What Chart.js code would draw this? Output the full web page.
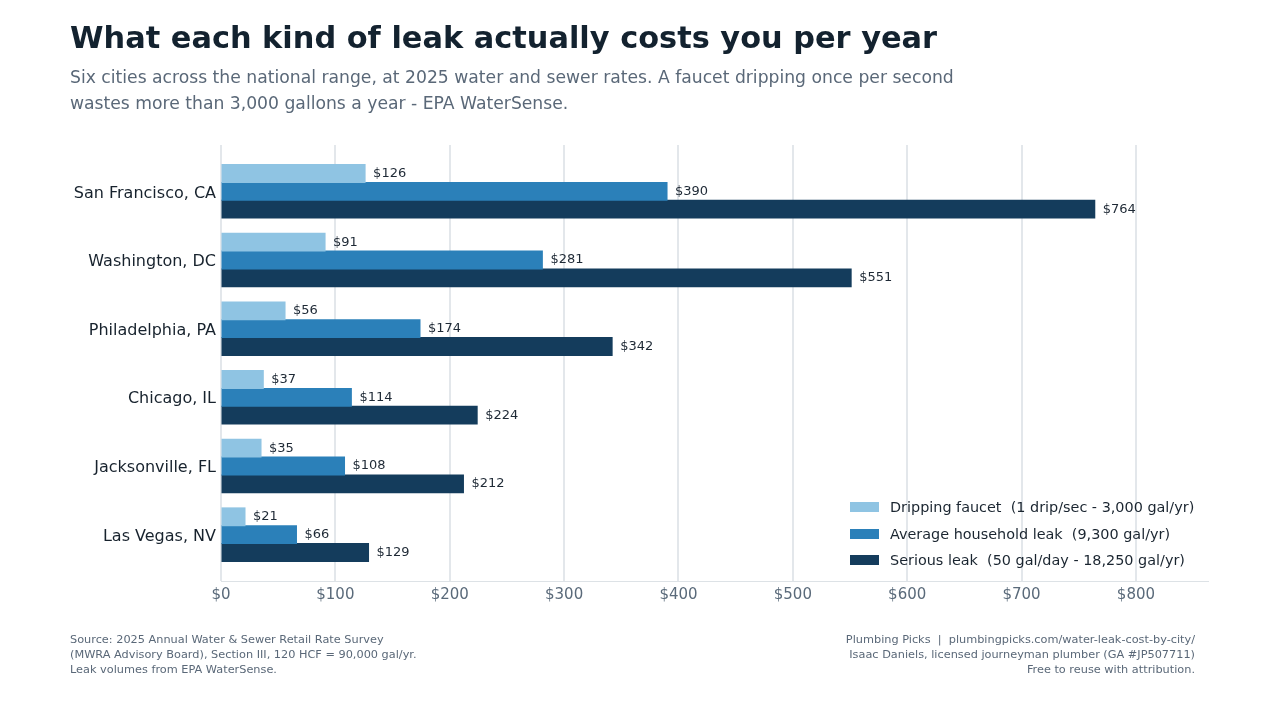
<!DOCTYPE html>
<html>
<head>
<meta charset="utf-8">
<script src="https://cdn.jsdelivr.net/npm/chart.js@4.4.1/dist/chart.umd.min.js"></script>
<style>
  html, body { margin: 0; padding: 0; background: #ffffff; }
  body { width: 1265px; height: 726px; position: relative; overflow: hidden; font-family: 'DejaVu Sans', sans-serif; }
  #chart-wrap { position: absolute; left: 0; top: 0; width: 1265px; height: 726px; }
  .title { position: absolute; left: 70px; top: 20px; font-size: 30.4px; font-weight: bold; color: #13222f; white-space: nowrap; }
  .subtitle { position: absolute; left: 70px; top: 64px; font-size: 17.2px; line-height: 26px; color: #5a6878; white-space: nowrap; }
  .foot { position: absolute; top: 632px; font-size: 11.3px; line-height: 15px; color: #5a6878; white-space: nowrap; }
  .foot.left { left: 70px; }
  .foot.right { right: 70px; text-align: right; }
  #legend { position: absolute; left: 850px; top: 494px; font-size: 14.4px; color: #1a2530; }
  #legend div { height: 26.5px; display: flex; align-items: center; white-space: pre; }
  #legend span.sw { display: inline-block; width: 29px; height: 10px; margin-right: 11px; }
</style>
</head>
<body>
<div id="chart-wrap"><canvas id="leakChart"></canvas></div>
<div class="title">What each kind of leak actually costs you per year</div>
<div class="subtitle">Six cities across the national range, at 2025 water and sewer rates. A faucet dripping once per second<br>wastes more than 3,000 gallons a year - EPA WaterSense.</div>
<div id="legend"></div>
<div class="foot left">Source: 2025 Annual Water &amp; Sewer Retail Rate Survey<br>(MWRA Advisory Board), Section III, 120 HCF = 90,000 gal/yr.<br>Leak volumes from EPA WaterSense.</div>
<div class="foot right">Plumbing Picks &nbsp;|&nbsp; plumbingpicks.com/water-leak-cost-by-city/<br>Isaac Daniels, licensed journeyman plumber (GA #JP507711)<br>Free to reuse with attribution.</div>

<script>
// --- dados do gráfico ---
const cities = ['San Francisco, CA', 'Washington, DC', 'Philadelphia, PA', 'Chicago, IL', 'Jacksonville, FL', 'Las Vegas, NV'];
const seriesNames = [
    'Dripping faucet  (1 drip/sec - 3,000 gal/yr)',
    'Average household leak  (9,300 gal/yr)',
    'Serious leak  (50 gal/day - 18,250 gal/yr)'
];
const drippingFaucet = [126, 91, 56, 37, 35, 21];
const averageLeak = [390, 281, 174, 114, 108, 66];
const seriousLeak = [764, 551, 342, 224, 212, 129];
const xTicks = [0, 100, 200, 300, 400, 500, 600, 700, 800];

const colors = ['#8fc4e3', '#2b80b9', '#143c5c'];

// categoria com um pouco de folga em cima e embaixo (meia banda + 0.175)
class PaddedCategory extends Chart.CategoryScale {
    configure() {
        super.configure();
        this._startValue = this.min - 0.675;
        this._valueRange = (this.max - this.min) + 1.35;
    }
}
PaddedCategory.id = 'paddedCategory';
PaddedCategory.defaults = Chart.CategoryScale.defaults;
Chart.register(PaddedCategory);

// rótulos de valor no fim de cada barra
const valueLabels = {
    id: 'valueLabels',
    afterDatasetsDraw(chart) {
        const ctx = chart.ctx;
        ctx.save();
        ctx.font = '13px "DejaVu Sans"';
        ctx.fillStyle = '#1e2935';
        ctx.textBaseline = 'middle';
        ctx.textAlign = 'left';
        chart.data.datasets.forEach((ds, i) => {
            chart.getDatasetMeta(i).data.forEach((bar, j) => {
                ctx.fillText('$' + ds.data[j], bar.x + 8, bar.y);
            });
        });
        ctx.restore();
    }
};

const datasets = [drippingFaucet, averageLeak, seriousLeak].map((vals, i) => ({
    label: seriesNames[i],
    data: vals,
    backgroundColor: colors[i],
    borderWidth: 0,
    inflateAmount: 0.5,
    barPercentage: 1,
    categoryPercentage: 0.78
}));

const chart = new Chart(document.getElementById('leakChart'), {
    type: 'bar',
    data: { labels: cities, datasets: datasets },
    options: {
        indexAxis: 'y',
        responsive: true,
        maintainAspectRatio: false,
        animation: false,
        layout: { padding: { top: 145, right: 57, bottom: 115, left: 0 } },
        plugins: {
            legend: { display: false },
            tooltip: { enabled: false }
        },
        scales: {
            x: {
                min: 0,
                max: 863,
                afterBuildTicks: (scale) => { scale.ticks = xTicks.map(v => ({ value: v })); },
                afterFit: (scale) => { scale.height = 30; },
                ticks: {
                    callback: (v) => '$' + v,
                    color: '#5a6a7a',
                    font: { family: 'DejaVu Sans', size: 15 },
                    padding: 5
                },
                grid: { color: '#e3e7eb', lineWidth: 2, drawTicks: false },
                border: { display: true, color: '#dde2e6', width: 1 }
            },
            y: {
                type: 'paddedCategory',
                afterFit: (scale) => { scale.width = 221; },
                ticks: {
                    color: '#17222d',
                    font: { family: 'DejaVu Sans', size: 16 },
                    padding: 5,
                    labelOffset: 2
                },
                grid: { display: false, drawTicks: false },
                border: { display: false }
            }
        }
    },
    plugins: [valueLabels]
});

// legenda em HTML dentro da área do gráfico
const legendEl = document.getElementById('legend');
seriesNames.forEach((name, i) => {
    const row = document.createElement('div');
    row.innerHTML = `<span class="sw" style="background:${colors[i]}"></span>${name}`;
    legendEl.appendChild(row);
});
</script>
</body>
</html>
